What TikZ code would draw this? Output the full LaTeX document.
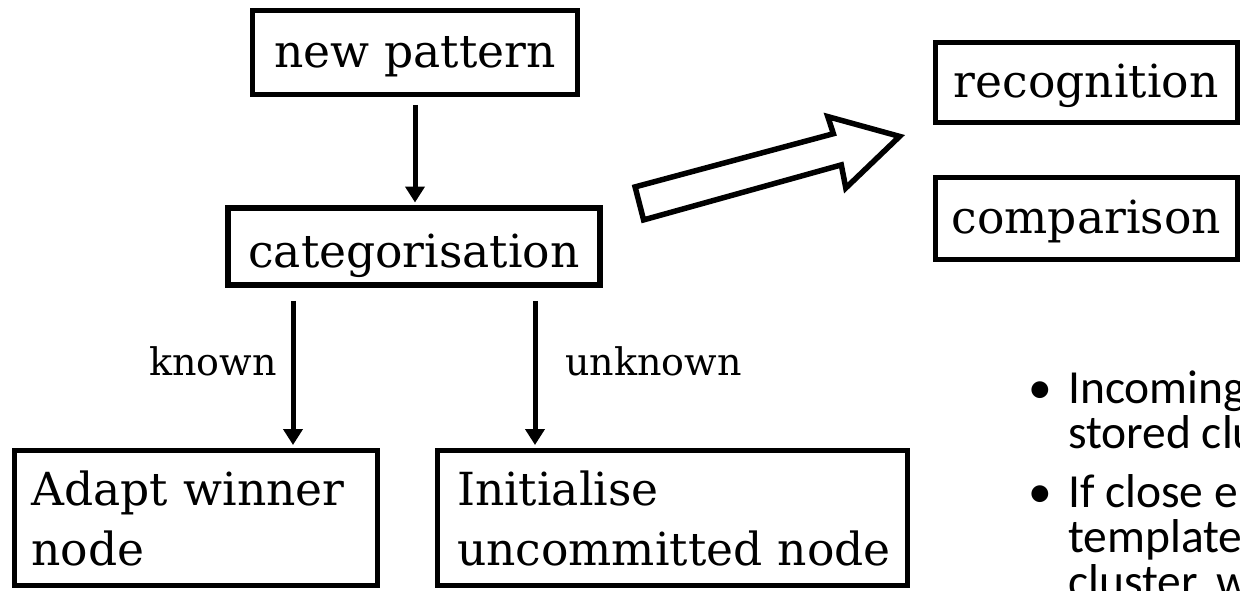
\documentclass[tikz,border=0pt]{standalone}
\usepackage{fontspec}
\setmainfont{DejaVu Serif}
\newfontfamily\calib{Carlito}
\usetikzlibrary{arrows.meta}
\begin{document}
\begin{tikzpicture}[x=1pt,y=-1pt,
  boxbase/.style={draw, line width=5.5pt, inner sep=0pt, font=\fontsize{45.6}{60}\selectfont},
  box/.style={boxbase, text height=30pt, text depth=0pt},
  mbox/.style={boxbase, align=left},
  arr/.style={line width=5pt, -{Triangle[width=19pt,length=16pt]}},
  lab/.style={font=\fontsize{38}{45}\selectfont, inner sep=0pt},
  bul/.style={font=\calib\fontsize{47.5}{57}\selectfont, inner sep=0pt}]
\useasboundingbox (0,0) rectangle (1240,590);
\fill[white] (0,0) rectangle (1240,590);
\clip (0,0) rectangle (1240,590);

% boxes
\node[box, minimum width=325pt, minimum height=84pt] (np) at (415,52.5) {new pattern};
\node[box, minimum width=372pt, minimum height=77pt, text height=41pt] (cat) at (414,246.5) {categorisation};
\node[box, line width=5pt, minimum width=301.5pt, minimum height=80pt] (rec) at (1086.25,82.5) {recognition};
\node[box, line width=5pt, minimum width=301.5pt, minimum height=82pt] (cmp) at (1086.25,218.5) {comparison};
\node[mbox, inner xsep=17pt, text width=329pt, minimum height=135pt] (adapt) at (196,518) {Adapt winner\\node};
\node[mbox, inner xsep=0pt, text width=431pt, minimum width=470pt, minimum height=135pt] (init) at (672.5,518) {Initialise\\uncommitted~node};

% connectors
\coordinate (kx) at (293,0);
\coordinate (ux) at (535,0);
\draw[arr, shorten <=7.5pt, shorten >=2.75pt] (np.south) -- (np.south |- cat.north);
\draw[arr, shorten <=13pt, shorten >=2.75pt] (cat.south -| kx) -- (adapt.north -| kx);
\draw[arr, shorten <=13pt, shorten >=2.75pt] (cat.south -| ux) -- (init.north -| ux);

% labels
\node[lab, anchor=base east] (lk) at (277,375) {known};
\node[lab, anchor=base west] (lu) at (565,375) {unknown};

% block arrow
\draw[line width=5.5pt, line join=miter, fill=white]
  (635.1,186.9) -- (833.4,133.7) -- (827.8,116.6) -- (899.6,136.4)
  -- (845.8,188.0) -- (841.3,164.9) -- (643.6,219.9) -- cycle;

% bullet text (clipped at the picture edge, as in the reference)
\node[bul, anchor=base] (b1) at (1040,403) {•};
\node[bul, anchor=base west] (t1a) at (1068,403) {Incoming};
\node[bul, anchor=base west] (t1b) at (1068,448) {stored clu};
\node[bul, anchor=base] (b2) at (1040,507) {•};
\node[bul, anchor=base west] (t2a) at (1068,507) {If close e};
\node[bul, anchor=base west] (t2b) at (1068,552) {template};
\node[bul, anchor=base west] (t2c) at (1068,597) {cluster, w};
\end{tikzpicture}
\end{document}
